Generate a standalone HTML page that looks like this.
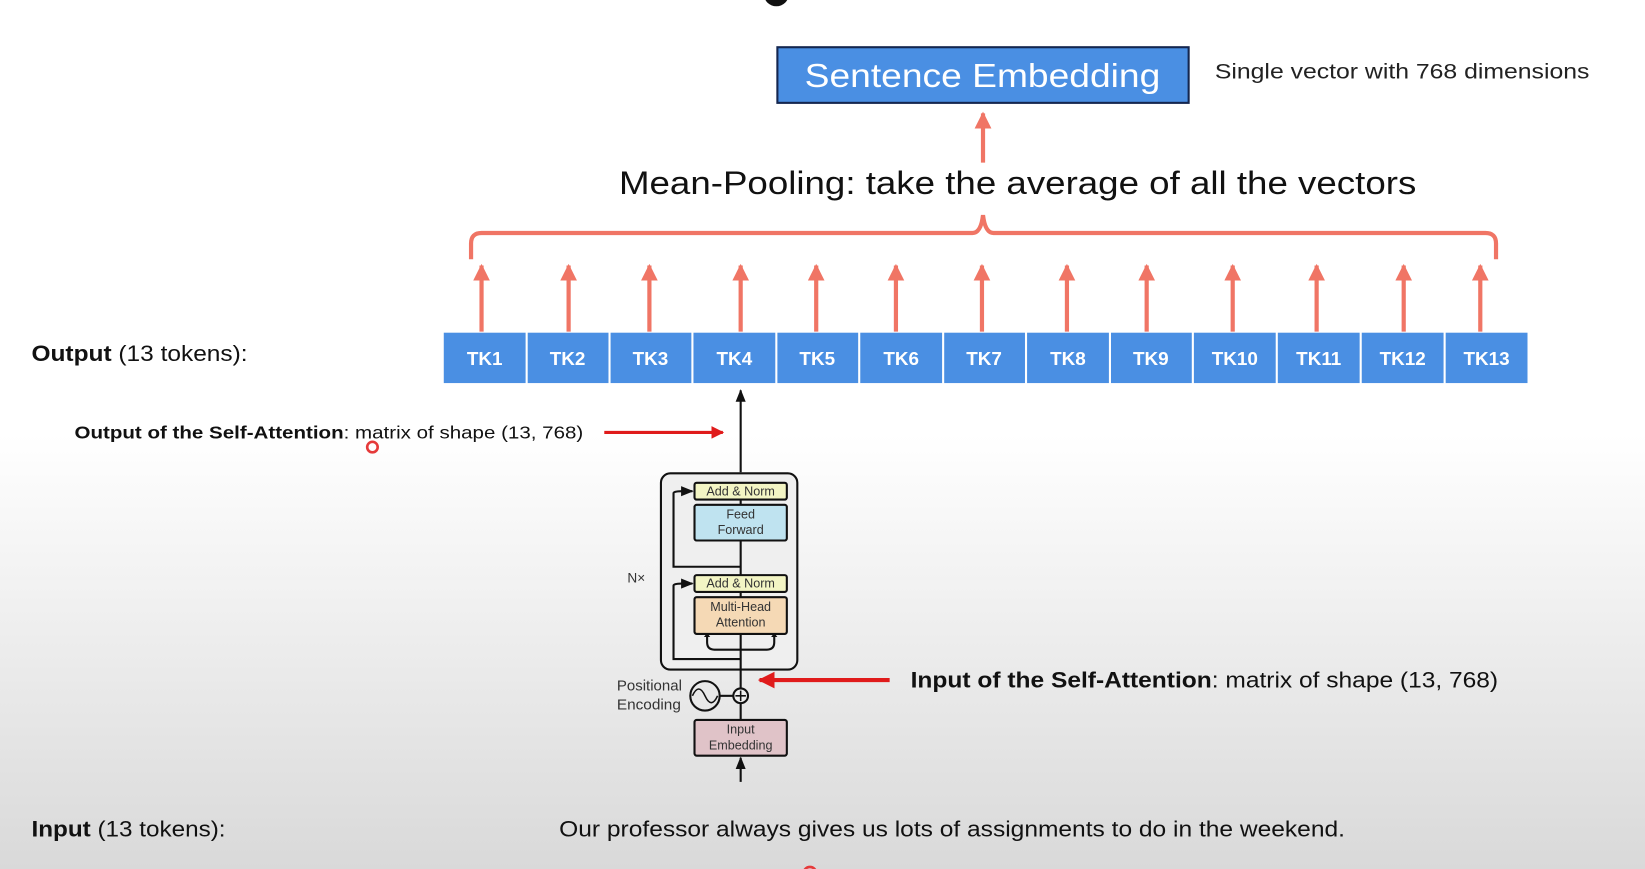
<!DOCTYPE html>
<html><head><meta charset="utf-8"><style>
html,body{margin:0;padding:0;width:1645px;height:869px;overflow:hidden;background:#fff}
svg{display:block}
text{font-family:"Liberation Sans",sans-serif}
</style></head><body>
<svg width="1645" height="869" viewBox="0 0 1568 828" preserveAspectRatio="none" xmlns="http://www.w3.org/2000/svg">
<defs>
<linearGradient id="bg" x1="0" y1="0" x2="0" y2="1">
<stop offset="0" stop-color="#ffffff"/><stop offset="0.5" stop-color="#ffffff"/><stop offset="1" stop-color="#d9d9d9"/>
</linearGradient>
<marker id="ra" viewBox="0 0 10 10" refX="9" refY="5" markerWidth="4" markerHeight="4" orient="auto"><path d="M0,0L10,5L0,10z" fill="#f07565"/></marker>
<marker id="ka" viewBox="0 0 10 10" refX="9" refY="5" markerWidth="6" markerHeight="6" orient="auto"><path d="M0,1L10,5L0,9z" fill="#111"/></marker>
<marker id="rr" viewBox="0 0 10 10" refX="9" refY="5" markerWidth="4" markerHeight="4" orient="auto"><path d="M0,0L10,5L0,10z" fill="#e01b1b"/></marker>
</defs>
<rect width="1568" height="828" fill="url(#bg)"/>
<circle cx="740" cy="-6" r="12" fill="#111"/>
<rect x="741" y="45" width="392" height="53" fill="#4a8fe3" stroke="#14264f" stroke-width="2"/>
<text x="767" y="83" font-size="32" fill="#fff" textLength="339" lengthAdjust="spacingAndGlyphs">Sentence Embedding</text>
<text x="1158" y="75" font-size="20" fill="#222" textLength="357" lengthAdjust="spacingAndGlyphs">Single vector with 768 dimensions</text>
<line x1="937" y1="155" x2="937" y2="108" stroke="#f07565" stroke-width="4" marker-end="url(#ra)"/>
<text x="590" y="185" font-size="31" fill="#111" textLength="760" lengthAdjust="spacingAndGlyphs">Mean-Pooling: take the average of all the vectors</text>
<path d="M449,247 V232 Q449,222 459,222 H927 Q935,222 937,205 Q939,222 947,222 H1416 Q1426,222 1426,232 V247" fill="none" stroke="#f07565" stroke-width="4"/>
<g stroke="#f07565" stroke-width="4" marker-end="url(#ra)">
<line x1="459" y1="316" x2="459" y2="253"/><line x1="542" y1="316" x2="542" y2="253"/><line x1="619" y1="316" x2="619" y2="253"/><line x1="706" y1="316" x2="706" y2="253"/><line x1="778" y1="316" x2="778" y2="253"/><line x1="854" y1="316" x2="854" y2="253"/><line x1="936" y1="316" x2="936" y2="253"/><line x1="1017" y1="316" x2="1017" y2="253"/><line x1="1093" y1="316" x2="1093" y2="253"/><line x1="1175" y1="316" x2="1175" y2="253"/><line x1="1255" y1="316" x2="1255" y2="253"/><line x1="1338" y1="316" x2="1338" y2="253"/><line x1="1411" y1="316" x2="1411" y2="253"/>
</g>
<g fill="#4a8fe3">
<rect x="423" y="317" width="78" height="48"/><rect x="503" y="317" width="77" height="48"/><rect x="582" y="317" width="77" height="48"/><rect x="661" y="317" width="78" height="48"/><rect x="741" y="317" width="77" height="48"/><rect x="820" y="317" width="78" height="48"/><rect x="900" y="317" width="77" height="48"/><rect x="979" y="317" width="78" height="48"/><rect x="1059" y="317" width="77" height="48"/><rect x="1138" y="317" width="78" height="48"/><rect x="1218" y="317" width="78" height="48"/><rect x="1298" y="317" width="78" height="48"/><rect x="1378" y="317" width="78" height="48"/>
</g>
<g font-size="18" font-weight="bold" fill="#fff" text-anchor="middle">
<text x="462" y="348">TK1</text><text x="541" y="348">TK2</text><text x="620" y="348">TK3</text><text x="700" y="348">TK4</text><text x="779" y="348">TK5</text><text x="859" y="348">TK6</text><text x="938" y="348">TK7</text><text x="1018" y="348">TK8</text><text x="1097" y="348">TK9</text><text x="1177" y="348">TK10</text><text x="1257" y="348">TK11</text><text x="1337" y="348">TK12</text><text x="1417" y="348">TK13</text>
</g>
<text x="30" y="344" font-size="21" fill="#111" textLength="206" lengthAdjust="spacingAndGlyphs"><tspan font-weight="bold">Output</tspan> (13 tokens):</text>
<line x1="706" y1="450" x2="706" y2="372" stroke="#111" stroke-width="2" marker-end="url(#ka)"/>
<text x="71" y="418" font-size="17" fill="#111" textLength="485" lengthAdjust="spacingAndGlyphs"><tspan font-weight="bold">Output of the Self-Attention</tspan>: matrix of shape (13, 768)</text>
<line x1="576" y1="412" x2="689" y2="412" stroke="#e01b1b" stroke-width="3" marker-end="url(#rr)"/>
<circle cx="355" cy="426" r="5" fill="none" stroke="#e53a3a" stroke-width="2.5"/>
<rect x="630" y="451" width="130" height="187" rx="9" fill="#efefef" stroke="#111" stroke-width="2"/>
<line x1="706" y1="745" x2="706" y2="722" stroke="#111" stroke-width="2" marker-end="url(#ka)"/>
<line x1="706" y1="686" x2="706" y2="460" stroke="#111" stroke-width="2"/>
<path d="M706,628 H642 V558 Q642,556 650,556 H660" fill="none" stroke="#111" stroke-width="2" marker-end="url(#ka)"/>
<path d="M706,540 H642 V470 Q642,468 650,468 H660" fill="none" stroke="#111" stroke-width="2" marker-end="url(#ka)"/>
<path d="M706,619 H681 Q674,619 674,612 V606 M706,619 H731 Q738,619 738,612 V606" fill="none" stroke="#111" stroke-width="2"/>
<path d="M671,607 L674,603 L677,607z M735,607 L738,603 L741,607z" fill="#111"/>
<rect x="662" y="460" width="88" height="16" rx="2" fill="#f3f5c4" stroke="#111" stroke-width="2"/>
<text x="706" y="472" font-size="12" fill="#333" text-anchor="middle">Add &amp; Norm</text>
<rect x="662" y="481" width="88" height="34" rx="2" fill="#bfe3f0" stroke="#111" stroke-width="2"/>
<text x="706" y="494" font-size="12" fill="#333" text-anchor="middle">Feed</text><text x="706" y="509" font-size="12" fill="#333" text-anchor="middle">Forward</text>
<rect x="662" y="548" width="88" height="16" rx="2" fill="#f3f5c4" stroke="#111" stroke-width="2"/>
<text x="706" y="560" font-size="12" fill="#333" text-anchor="middle">Add &amp; Norm</text>
<rect x="662" y="569" width="88" height="35" rx="2" fill="#f5d9b5" stroke="#111" stroke-width="2"/>
<text x="706" y="582" font-size="12" fill="#333" text-anchor="middle">Multi-Head</text><text x="706" y="597" font-size="12" fill="#333" text-anchor="middle">Attention</text>
<text x="598" y="555" font-size="13" fill="#333">N×</text>
<text x="588" y="658" font-size="14" fill="#333" textLength="62" lengthAdjust="spacingAndGlyphs">Positional</text><text x="588" y="676" font-size="14" fill="#333" textLength="61" lengthAdjust="spacingAndGlyphs">Encoding</text>
<circle cx="672" cy="663" r="14" fill="none" stroke="#111" stroke-width="2"/>
<path d="M660,663 Q666,650 672,663 Q678,676 684,663" fill="none" stroke="#111" stroke-width="1.5"/>
<line x1="686" y1="663" x2="699" y2="663" stroke="#111" stroke-width="2"/>
<circle cx="706" cy="663" r="7" fill="#efefef" stroke="#111" stroke-width="2"/>
<path d="M701,663 H711 M706,658 V668" stroke="#111" stroke-width="1.5"/>
<rect x="662" y="686" width="88" height="34" rx="2" fill="#e0c3c8" stroke="#111" stroke-width="2"/>
<text x="706" y="699" font-size="12" fill="#333" text-anchor="middle">Input</text><text x="706" y="714" font-size="12" fill="#333" text-anchor="middle">Embedding</text>
<line x1="848" y1="648" x2="724" y2="648" stroke="#e01b1b" stroke-width="4" marker-end="url(#rr)"/>
<text x="868" y="655" font-size="21" fill="#111" textLength="560" lengthAdjust="spacingAndGlyphs"><tspan font-weight="bold">Input of the Self-Attention</tspan>: matrix of shape (13, 768)</text>
<text x="30" y="797" font-size="21" fill="#111" textLength="185" lengthAdjust="spacingAndGlyphs"><tspan font-weight="bold">Input</tspan> (13 tokens):</text>
<text x="533" y="797" font-size="21" fill="#111" textLength="749" lengthAdjust="spacingAndGlyphs">Our professor always gives us lots of assignments to do in the weekend.</text>
<circle cx="772" cy="832" r="6" fill="none" stroke="#e53a3a" stroke-width="2.5"/>
</svg>
</body></html>
